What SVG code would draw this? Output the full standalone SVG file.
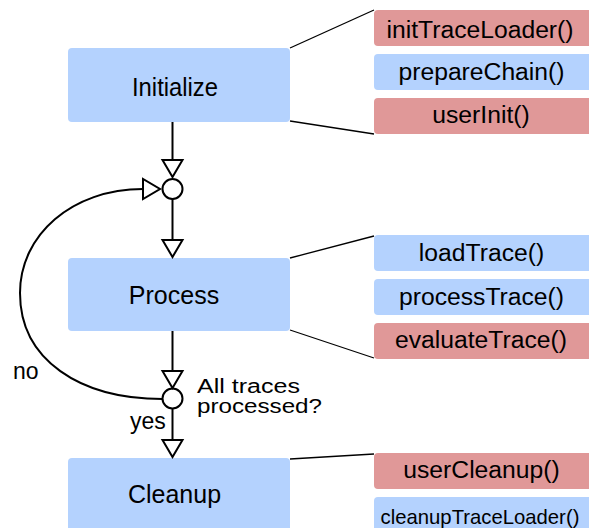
<svg xmlns="http://www.w3.org/2000/svg" width="589" height="528" viewBox="0 0 589 528">
  <style>
    .stage { fill: #b4d2fe; }
    .blue { fill: #b4d2fe; }
    .red { fill: #e09898; }
    .lbl { font-family: "Liberation Sans", Arial, sans-serif; fill: #000; text-anchor: middle; }
    .big { font-size: 25px; }
    .fn { font-size: 24.7px; }
    .small { font-size: 20.3px; }
    .note { font-family: "Liberation Sans", Arial, sans-serif; fill: #000; font-size: 23px; }
    .cond { font-size: 20px; }
    .flow { fill: none; stroke: #000; stroke-width: 2; }
    .head { fill: #fff; stroke: #000; stroke-width: 2; stroke-linejoin: miter; }
    .junction { fill: #fff; stroke: #000; stroke-width: 2; }
    .link { fill: none; stroke: #000; stroke-width: 1.3; }
  </style>

  <rect width="589" height="528" fill="#fff"/>

  <!-- stage nodes -->
  <g id="initialize">
    <rect class="stage" x="68" y="48" width="222" height="74" rx="4"/>
    <text class="lbl big" x="175" y="96" textLength="86" lengthAdjust="spacingAndGlyphs">Initialize</text>
  </g>
  <g id="process">
    <rect class="stage" x="68" y="258" width="222" height="73" rx="4"/>
    <text class="lbl big" x="174" y="304">Process</text>
  </g>
  <g id="cleanup">
    <rect class="stage" x="68" y="458" width="222" height="80" rx="4"/>
    <text class="lbl big" x="174.5" y="503">Cleanup</text>
  </g>

  <!-- method calls per stage -->
  <g id="initTraceLoader">
    <rect class="red" x="374" y="10" width="222" height="36" rx="4"/>
    <text class="lbl fn" x="480" y="38">initTraceLoader()</text>
  </g>
  <g id="prepareChain">
    <rect class="blue" x="374" y="54" width="222" height="36" rx="4"/>
    <text class="lbl fn" x="481.5" y="80">prepareChain()</text>
  </g>
  <g id="userInit">
    <rect class="red" x="374" y="98" width="222" height="36" rx="4"/>
    <text class="lbl fn" x="481" y="123">userInit()</text>
  </g>
  <g id="loadTrace">
    <rect class="blue" x="374" y="235" width="222" height="36" rx="4"/>
    <text class="lbl fn" x="481.5" y="261">loadTrace()</text>
  </g>
  <g id="processTrace">
    <rect class="blue" x="374" y="279" width="222" height="36" rx="4"/>
    <text class="lbl fn" x="481.5" y="305">processTrace()</text>
  </g>
  <g id="evaluateTrace">
    <rect class="red" x="374" y="323" width="222" height="36" rx="4"/>
    <text class="lbl fn" x="481" y="348">evaluateTrace()</text>
  </g>
  <g id="userCleanup">
    <rect class="red" x="374" y="453" width="222" height="36" rx="4"/>
    <text class="lbl fn" x="481.5" y="478">userCleanup()</text>
  </g>
  <g id="cleanupTraceLoader">
    <rect class="blue" x="374" y="497" width="222" height="40" rx="4"/>
    <text class="lbl small" x="480" y="524">cleanupTraceLoader()</text>
  </g>

  <!-- junctions -->
  <g id="merge">
    <circle class="junction" cx="172.5" cy="189" r="10"/>
  </g>
  <g id="decision">
    <circle class="junction" cx="172.5" cy="398.5" r="10"/>
    <text class="note cond"><tspan x="197" y="393" textLength="103" lengthAdjust="spacingAndGlyphs">All traces</tspan><tspan x="197" y="413" textLength="125" lengthAdjust="spacingAndGlyphs">processed?</tspan></text>
  </g>

  <!-- connectors -->
  <g id="connectors">
    <!-- stage to method brackets -->
    <line class="link" x1="290" y1="48" x2="374" y2="10"/>
    <line class="link" x1="290" y1="121" x2="374" y2="134"/>
    <line class="link" x1="290" y1="258" x2="374" y2="236"/>
    <line class="link" x1="290" y1="330" x2="374" y2="358"/>
    <line class="link" x1="290" y1="459" x2="374" y2="454"/>

    <!-- main flow -->
    <line class="flow" x1="172.5" y1="122" x2="172.5" y2="160"/>
    <polygon class="head" points="162.5,160 182.5,160 172.5,177"/>

    <line class="flow" x1="172.5" y1="199" x2="172.5" y2="240"/>
    <polygon class="head" points="162.5,240 182.5,240 172.5,257"/>

    <line class="flow" x1="172.5" y1="331" x2="172.5" y2="371"/>
    <polygon class="head" points="162.5,371 182.5,371 172.5,388"/>

    <line class="flow" x1="172.5" y1="408.5" x2="172.5" y2="440"/>
    <polygon class="head" points="162.5,440 182.5,440 172.5,457"/>

    <!-- loop back ("no" branch) -->
    <path class="flow" d="M162.5,399 C80,399 20,360 20,293 C20,235 72,189 143,189"/>
    <polygon class="head" points="143,179 143,199 160,189"/>

    <text class="note" x="13" y="379">no</text>
    <text class="note" x="130" y="429">yes</text>
  </g>
</svg>
